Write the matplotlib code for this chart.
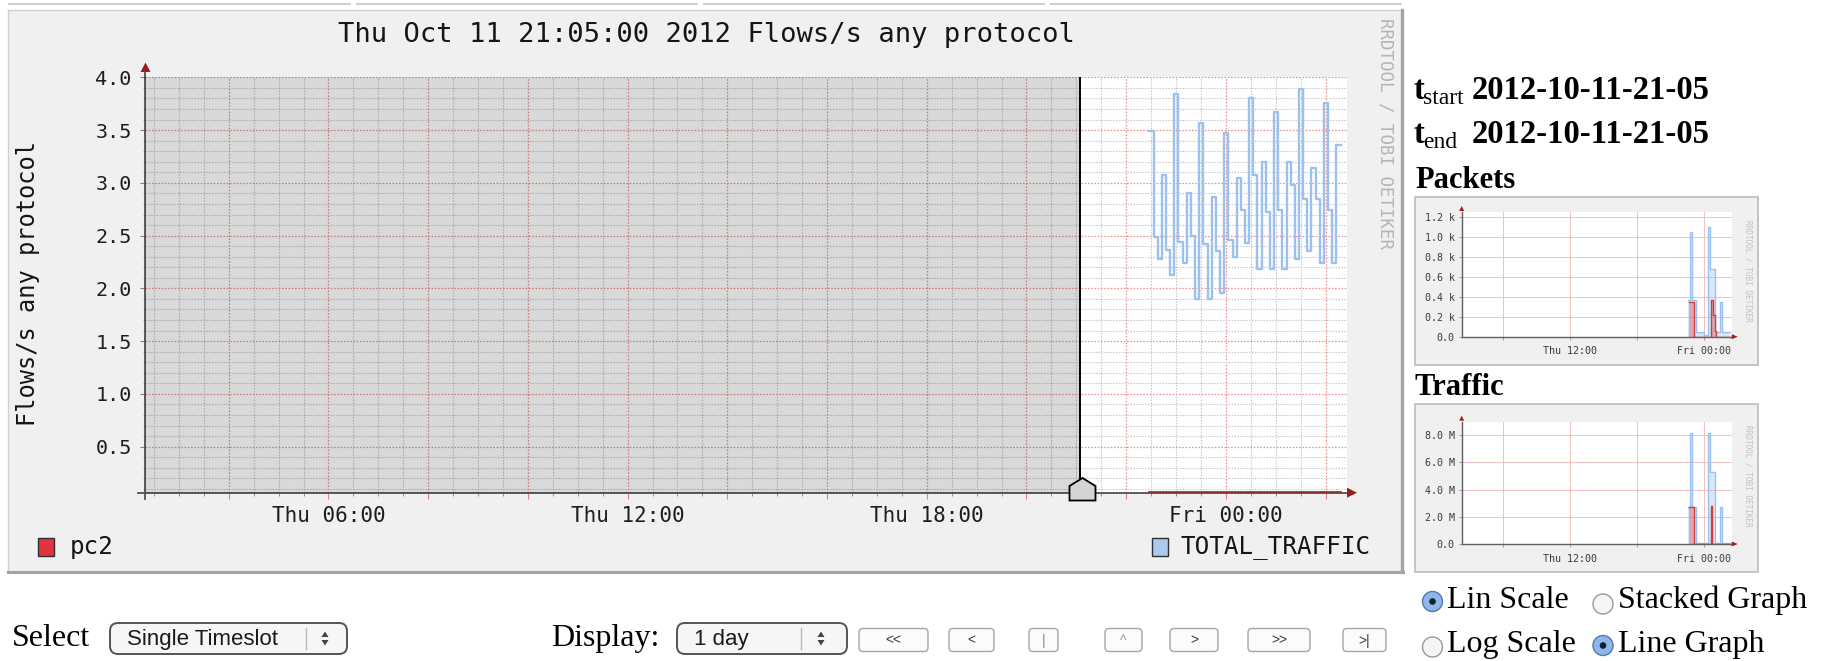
import numpy as np
import matplotlib
matplotlib.use('Agg')
import matplotlib.pyplot as plt
from matplotlib.patches import Rectangle, FancyBboxPatch, Circle, Polygon
from matplotlib.ticker import MultipleLocator, FuncFormatter

plt.rcParams['font.family'] = ['DejaVu Sans Mono']

W, H = 1825, 661

# ---------------- data ----------------
title = "Thu Oct 11 21:05:00 2012 Flows/s any protocol"
ylabel = "Flows/s any protocol"
# time axis in hours since Thu 00:00
x_start, x_end = 2.32, 26.43
marker_time = 21 + 5 / 60          # 21:05 selection marker
first_sample = 22 + 28 / 60        # first 5-minute sample
sample_step = 5 / 60
label_hours = [6, 12, 18, 24]
label_texts = ["Thu 06:00", "Thu 12:00", "Thu 18:00", "Fri 00:00"]

total_traffic = [3.49, 2.49, 2.28, 3.07, 2.36, 2.13, 3.84, 2.44, 2.24, 2.90,
                 2.50, 1.90, 3.57, 2.42, 1.90, 2.87, 2.35, 1.96, 3.47, 2.46,
                 2.30, 3.05, 2.74, 2.43, 3.80, 3.07, 2.18, 3.20, 2.72, 2.18,
                 3.67, 2.74, 2.18, 3.20, 2.98, 2.28, 3.89, 2.85, 2.35, 3.14,
                 2.85, 2.24, 3.76, 2.74, 2.24, 3.36]
pc2 = [0.066, 0.066, 0.066, 0.066, 0.066, 0.066, 0.066, 0.066, 0.066, 0.066,
       0.066, 0.066, 0.066, 0.066, 0.066, 0.066, 0.066, 0.066, 0.066, 0.066,
       0.066, 0.066, 0.066, 0.066, 0.066, 0.066, 0.066, 0.066, 0.066, 0.066,
       0.066, 0.066, 0.066, 0.066, 0.066, 0.066, 0.066, 0.066, 0.066, 0.066,
       0.066, 0.066, 0.066, 0.066, 0.066, 0.066]

# thumbnails (step series: change times in hours, values)
pk_tot_t = [22.50, 22.68, 22.85, 23.20, 23.95, 24.33, 24.52, 24.90, 25.37, 25.55, 26.25]
pk_tot_v = [0.37, 1.05, 0.37, 0.05, 0.02, 1.10, 0.68, 0.05, 0.35, 0.05, 0.05]
pk_pc2_t = [22.62, 23.05, 24.55, 24.72, 24.90, 25.00, 26.25]
pk_pc2_v = [0.35, 0.0, 0.37, 0.22, 0.06, 0.0, 0.0]
pk_ticks = [0.0, 0.2, 0.4, 0.6, 0.8, 1.0, 1.2]
pk_labels = ["0.0", "0.2 k", "0.4 k", "0.6 k", "0.8 k", "1.0 k", "1.2 k"]

tr_tot_t = [22.50, 22.68, 22.85, 23.20, 24.33, 24.50, 24.90, 25.37, 25.55, 26.25]
tr_tot_v = [2.7, 8.2, 2.7, 0.1, 8.2, 5.3, 0.1, 2.7, 0.1, 0.1]
tr_pc2_t = [22.62, 23.05, 24.58, 24.66, 26.25]
tr_pc2_v = [2.7, 0.0, 2.8, 0.0, 0.0]
tr_ticks = [0.0, 2.0, 4.0, 6.0, 8.0]
tr_labels = ["0.0", "2.0 M", "4.0 M", "6.0 M", "8.0 M"]

thumb_grid_hours = [6, 12, 18, 24]
thumb_labels = ["", "Thu 12:00", "", "Fri 00:00"]

buttons = ["<<", "<", "|", "^", ">", ">>", ">|"]

# ---------------- figure ----------------
fig = plt.figure(figsize=(W / 100, H / 100), dpi=100)
fig.patch.set_facecolor('white')


def frac(x0, y0, x1, y1):
    return [x0 / W, 1 - y1 / H, (x1 - x0) / W, (y1 - y0) / H]


bg = fig.add_axes([0, 0, 1, 1], zorder=0)
bg.set_xlim(0, W); bg.set_ylim(H, 0); bg.axis('off')
ov = fig.add_axes([0, 0, 1, 1], zorder=10)
ov.set_xlim(0, W); ov.set_ylim(H, 0); ov.axis('off')

# top tab lines
for a0, a1 in [(8, 351), (356, 698), (703, 1045), (1050, 1402)]:
    bg.plot([a0, a1], [4, 4], color='#cfcfcf', lw=1.5, solid_capstyle='butt')

# main panel
bg.add_patch(Rectangle((8.5, 10), 1394, 562, facecolor='#f0f0f0',
                       edgecolor='#d0d0d0', lw=1))
bg.plot([8.5, 1403], [571.5, 571.5], color='#a4a4a4', lw=2.2)
bg.plot([1402.5, 1402.5], [10, 572], color='#a4a4a4', lw=2.4)

# ---------------- main chart ----------------
ax = fig.add_axes(frac(145, 77.3, 1347, 492.7), zorder=2)
ax.set_facecolor('white')
ax.set_xlim(x_start, x_end)
ax.set_ylim(0.064, 4.0)

ax.set_xticks(np.arange(4, 27, 2))
ax.set_xticklabels([label_texts[label_hours.index(h)] if h in label_hours else ''
                    for h in np.arange(4, 27, 2)])
ax.xaxis.set_minor_locator(MultipleLocator(0.5))
ax.yaxis.set_major_locator(MultipleLocator(0.5))
ax.yaxis.set_minor_locator(MultipleLocator(0.1))
ax.yaxis.set_major_formatter(FuncFormatter(lambda v, p: f'{v:.1f}'))
ax.set_axisbelow(True)
ax.grid(True, which='minor', color='#c6c6c6', ls=(0, (1.3, 1.3)), lw=0.8)
ax.grid(True, which='major', color='#ee9090', ls=(0, (1.3, 1.3)), lw=0.9)
for s in ['top', 'right']:
    ax.spines[s].set_visible(False)
for s in ['left', 'bottom']:
    ax.spines[s].set_color('#505050')
    ax.spines[s].set_linewidth(1.3)
ax.tick_params(axis='x', which='major', length=4.5, width=0.8, color='#e08080',
               pad=5, labelsize=15, labelcolor='#1e1e1e')
ax.tick_params(axis='x', which='minor', length=2.2, width=0.7, color='#909090')
ax.tick_params(axis='y', which='major', length=3.5, width=0.8, color='#808080',
               pad=6, labelsize=14.5, labelcolor='#1e1e1e')
ax.tick_params(axis='y', which='minor', length=1.5, width=0.6, color='#a0a0a0')

xs = first_sample + sample_step * np.arange(len(total_traffic) + 1)
ax.plot(xs, total_traffic + [total_traffic[-1]], drawstyle='steps-post',
        color='#9cc1ec', lw=1.7, zorder=2.6)
ax.plot(xs, pc2 + [pc2[-1]], drawstyle='steps-post', color='#8c2a2a',
        lw=1.2, zorder=2.7, clip_on=False)
ax.axvspan(x_start, marker_time, color='black', alpha=0.15, lw=0, zorder=3)
ax.axvline(marker_time, color='black', lw=1.4, zorder=4)

# axis arrows and extensions
ov.plot([145, 145], [72, 78], color='#505050', lw=1.3)
ov.plot([138, 145], [492.7, 492.7], color='#505050', lw=1.3)
ov.plot([145, 145], [492.7, 499], color='#505050', lw=1.3)
ov.add_patch(Polygon([(140.5, 72), (150.5, 72), (145.5, 62.5)], closed=True,
                     facecolor='#a01c1c', edgecolor='none'))
ov.add_patch(Polygon([(1347, 487.7), (1347, 497.7), (1357, 492.7)], closed=True,
                     facecolor='#a01c1c', edgecolor='none'))
# selection marker (house shape)
ov.add_patch(Polygon([(1069.5, 500.5), (1095.5, 500.5), (1095.5, 486), (1082.5, 478),
                      (1069.5, 486)], closed=True, facecolor='#d4d4d4',
                     edgecolor='black', lw=1.3))

ov.text(706, 35, title, ha='center', va='center', fontsize=19.5, color='#151515')
ov.text(28, 283, ylabel, rotation=90, ha='center', va='center', fontsize=17,
        color='#151515')
ov.text(1386, 133, "RRDTOOL / TOBI OETIKER", rotation=270, ha='center',
        va='center', fontsize=12.5, color='#b4b4b4')

# legend
ov.add_patch(Rectangle((38.5, 537.5), 16, 18, facecolor='#e2343c',
                       edgecolor='#303030', lw=1))
ov.text(70, 547, "pc2", ha='left', va='center', fontsize=17.5, color='#151515')
ov.add_patch(Rectangle((1152.5, 537.5), 16, 18, facecolor='#aacaee',
                       edgecolor='#303030', lw=1))
ov.text(1181, 547, "TOTAL_TRAFFIC", ha='left', va='center', fontsize=17.5,
        color='#151515')

# ---------------- right panel ----------------
serif = ['Liberation Serif', 'DejaVu Serif']
ov.text(1414, 99.3, "t", family=serif, weight='bold', fontsize=23.5, va='baseline')
ov.text(1423, 104, "start", family=serif, fontsize=17, va='baseline')
ov.text(1472, 99.3, "2012-10-11-21-05", family=serif, weight='bold',
        fontsize=23.5, va='baseline')
ov.text(1414, 143.3, "t", family=serif, weight='bold', fontsize=23.5, va='baseline')
ov.text(1423, 148, "end", family=serif, fontsize=17, va='baseline')
ov.text(1472, 143.3, "2012-10-11-21-05", family=serif, weight='bold',
        fontsize=23.5, va='baseline')
ov.text(1415, 188.3, "Packets", family=serif, weight='bold', fontsize=22,
        va='baseline')
ov.text(1415, 395, "Traffic", family=serif, weight='bold', fontsize=22,
        va='baseline')


def thumb(box, rect, ymax, yt, yl, tt, tv, pt, pv, wm_y):
    bx0, by0, bx1, by1 = box
    bg.add_patch(Rectangle((bx0, by0), bx1 - bx0, by1 - by0, facecolor='#f0f0f0',
                           edgecolor='#c0c0c0', lw=1.3))
    a = fig.add_axes(frac(*rect), zorder=2)
    a.set_facecolor('white')
    a.set_xlim(x_start, x_end)
    a.set_ylim(0, ymax)
    a.set_xticks(thumb_grid_hours)
    a.set_xticklabels(thumb_labels)
    a.set_yticks(yt)
    a.set_yticklabels(yl)
    a.set_axisbelow(True)
    a.grid(True, color='#f2b6b6', lw=0.6)
    for s in ['top', 'right']:
        a.spines[s].set_visible(False)
    for s in ['left', 'bottom']:
        a.spines[s].set_color('#606060')
        a.spines[s].set_linewidth(1.0)
    a.tick_params(length=2, width=0.6, color='#909090', labelsize=7.2,
                  labelcolor='#3a3a3a', pad=3)
    a.tick_params(axis='x', pad=5)
    a.fill_between(tt, tv, step='post', color='#a9c9ee', alpha=0.45, lw=0)
    a.plot(tt, tv, drawstyle='steps-post', color='#9cc1ec', lw=1.0)
    a.fill_between(pt, pv, step='post', color='#d83a3a', alpha=0.35, lw=0)
    a.plot(pt, pv, drawstyle='steps-post', color='#d83a3a', lw=1.0)
    x0p, y0p, x1p, y1p = rect
    ov.add_patch(Polygon([(x0p - 2.5, y0p - 1), (x0p + 2.5, y0p - 1), (x0p, y0p - 6)],
                         closed=True, facecolor='#a01c1c', edgecolor='none'))
    ov.add_patch(Polygon([(x1p, y1p - 2.5), (x1p, y1p + 2.5), (x1p + 6, y1p)],
                         closed=True, facecolor='#a01c1c', edgecolor='none'))
    ov.text(1748, wm_y, "RRDTOOL / TOBI OETIKER", rotation=270, ha='center',
            va='center', fontsize=5.6, color='#c2c2c2')


thumb((1415, 197, 1758, 365), (1461.7, 212, 1731.7, 336.7), 1.25,
      pk_ticks, pk_labels, pk_tot_t, pk_tot_v, pk_pc2_t, pk_pc2_v, 271)
thumb((1415, 404, 1758, 571.7), (1461.7, 421.7, 1731.7, 544), 9.0,
      tr_ticks, tr_labels, tr_tot_t, tr_tot_v, tr_pc2_t, tr_pc2_v, 476)


# radio buttons
def radio(cx, cy, selected):
    if selected:
        ov.add_patch(Circle((cx, cy), 10, facecolor='#8db7ea', edgecolor='#5479a8', lw=1))
        ov.add_patch(Circle((cx, cy), 3.3, facecolor='#14202e', edgecolor='none'))
    else:
        ov.add_patch(Circle((cx, cy), 10, facecolor='#f5f5f5', edgecolor='#9a9a9a', lw=1))


radio(1432.5, 601.5, True)
radio(1603, 604, False)
radio(1432.5, 647, False)
radio(1603, 645.5, True)
ov.text(1446.7, 608.3, "Lin Scale", family=serif, fontsize=23, va='baseline')
ov.text(1618, 608.3, "Stacked Graph", family=serif, fontsize=23, va='baseline')
ov.text(1446.7, 651.7, "Log Scale", family=serif, fontsize=23, va='baseline')
ov.text(1618, 651.7, "Line Graph", family=serif, fontsize=23, va='baseline')

# ---------------- bottom controls ----------------
sans = ['Liberation Sans', 'DejaVu Sans']
ov.text(11.6, 646, "Select", family=serif, fontsize=23, va='baseline')
ov.text(550.6, 646, "Display:", family=serif, fontsize=23, va='baseline')


def select_box(x0, x1, y0, y1, label, sep_x, arr_x):
    ov.add_patch(FancyBboxPatch((x0, y0), x1 - x0, y1 - y0,
                                boxstyle='round,pad=0,rounding_size=8',
                                facecolor='#f6f6f6', edgecolor='#555555', lw=1.4))
    ym = (y0 + y1) / 2
    ov.text(x0 + 17, ym + 1, label, family=sans, fontsize=16, va='center',
            color='#1a1a1a')
    ov.plot([sep_x, sep_x], [y0 + 5, y1 - 5], color='#b8b8b8', lw=1)
    ov.add_patch(Polygon([(arr_x - 3.5, ym - 1.5), (arr_x + 3.5, ym - 1.5),
                          (arr_x, ym - 7)], closed=True, facecolor='#444444'))
    ov.add_patch(Polygon([(arr_x - 3.5, ym + 1.5), (arr_x + 3.5, ym + 1.5),
                          (arr_x, ym + 7)], closed=True, facecolor='#444444'))


select_box(110, 347, 623, 654, "Single Timeslot", 306, 325)
select_box(677, 847, 623, 654, "1 day", 801, 821)

btn_x = [(859, 928), (949, 994), (1029, 1058), (1105, 1142), (1170, 1218),
         (1248, 1310), (1343, 1386)]
btn_col = ['#3a3a3a', '#3a3a3a', '#5f8fc0', '#9a9a9a', '#3a3a3a', '#3a3a3a', '#3a3a3a']
for (b0, b1), lab, c in zip(btn_x, buttons, btn_col):
    ov.add_patch(FancyBboxPatch((b0, 628.5), b1 - b0, 23,
                                boxstyle='round,pad=0,rounding_size=4',
                                facecolor='#fbfbfb', edgecolor='#a6a6a6', lw=1))
    ov.text((b0 + b1) / 2, 640.5, lab, family=sans, fontsize=10, ha='center',
            va='center', color=c)

fig.savefig('out.png', dpi=100)
